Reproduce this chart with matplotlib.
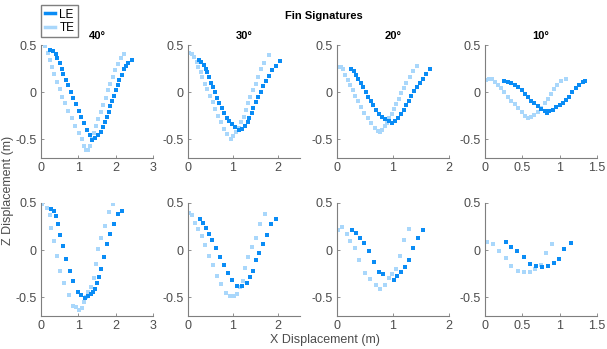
import matplotlib.pyplot as plt

plt.rcParams['font.family'] = ['Liberation Sans', 'DejaVu Sans']

# colours of the two fin edges
le_color = '#0a8cf5'
te_color = '#a9d7fb'

angles = ['40°', '30°', '20°', '10°']
xlims = [3, 2.5, 2, 1.5]
xticks = [[0, 1, 2, 3], [0, 1, 2], [0, 1, 2], [0, 0.5, 1, 1.5]]
xticklabels = [['0', '1', '2', '3'], ['0', '1', '2'], ['0', '1', '2'],
               ['0', '0.5', '1', '1.5']]

# ---- top row (dense sampling) ----
top40_le_x = [0.23, 0.32, 0.39, 0.44, 0.50, 0.55, 0.60, 0.67, 0.73, 0.80, 0.87, 0.94,
              1.01, 1.08, 1.15, 1.22, 1.30, 1.36, 1.45, 1.53, 1.61, 1.66, 1.71, 1.76,
              1.81, 1.85, 1.91, 1.95, 2.00, 2.05, 2.10, 2.16, 2.21, 2.27, 2.34, 2.43]
top40_le_y = [0.45, 0.44, 0.40, 0.36, 0.31, 0.25, 0.19, 0.13, 0.07, 0.00, -0.06, -0.13,
              -0.20, -0.26, -0.33, -0.40, -0.46, -0.51, -0.49, -0.46, -0.42, -0.37, -0.32, -0.26,
              -0.21, -0.15, -0.09, -0.04, 0.02, 0.07, 0.13, 0.18, 0.24, 0.28, 0.31, 0.34]
top40_te_x = [0.12, 0.18, 0.23, 0.29, 0.35, 0.43, 0.50, 0.57, 0.65, 0.73, 0.82, 0.91,
              1.01, 1.10, 1.16, 1.21, 1.26, 1.30, 1.36, 1.42, 1.48, 1.54, 1.61, 1.67,
              1.73, 1.79, 1.85, 1.92, 1.99, 2.06, 2.13, 2.22]
top40_te_y = [0.49, 0.41, 0.34, 0.27, 0.19, 0.11, 0.03, -0.05, -0.12, -0.20, -0.28, -0.36,
              -0.43, -0.50, -0.57, -0.62, -0.61, -0.57, -0.50, -0.43, -0.36, -0.29, -0.21, -0.14,
              -0.06, 0.02, 0.09, 0.16, 0.23, 0.30, 0.36, 0.40]

top30_le_x = [0.25, 0.30, 0.35, 0.40, 0.43, 0.47, 0.52, 0.56, 0.61, 0.65, 0.70, 0.76,
              0.81, 0.86, 0.92, 0.98, 1.06, 1.13, 1.21, 1.27, 1.33, 1.37, 1.42, 1.46,
              1.51, 1.57, 1.62, 1.68, 1.74, 1.81, 1.88, 1.96, 2.06]
top30_le_y = [0.34, 0.32, 0.29, 0.25, 0.21, 0.16, 0.10, 0.05, 0.00, -0.06, -0.12, -0.17,
              -0.22, -0.27, -0.31, -0.34, -0.37, -0.40, -0.39, -0.36, -0.32, -0.27, -0.22, -0.17,
              -0.11, -0.05, 0.00, 0.06, 0.12, 0.17, 0.23, 0.28, 0.33]
top30_te_x = [0.02, 0.08, 0.13, 0.19, 0.23, 0.28, 0.32, 0.37, 0.43, 0.49, 0.55, 0.61,
              0.67, 0.74, 0.81, 0.88, 0.95, 1.01, 1.07, 1.13, 1.18, 1.24, 1.29, 1.34,
              1.39, 1.45, 1.51, 1.57, 1.63, 1.70, 1.80]
top30_te_y = [0.41, 0.40, 0.37, 0.32, 0.27, 0.21, 0.16, 0.09, 0.03, -0.04, -0.11, -0.18,
              -0.25, -0.32, -0.39, -0.45, -0.50, -0.47, -0.42, -0.38, -0.32, -0.26, -0.19, -0.12,
              -0.05, 0.02, 0.09, 0.16, 0.24, 0.31, 0.39]

top20_le_x = [0.25, 0.30, 0.34, 0.38, 0.42, 0.46, 0.51, 0.56, 0.60, 0.65, 0.70, 0.75,
              0.80, 0.86, 0.92, 0.98, 1.04, 1.09, 1.14, 1.19, 1.24, 1.28, 1.33, 1.38,
              1.43, 1.48, 1.53, 1.59, 1.66]
top20_le_y = [0.24, 0.22, 0.18, 0.14, 0.10, 0.05, 0.00, -0.05, -0.10, -0.14, -0.19, -0.23,
              -0.26, -0.29, -0.31, -0.33, -0.31, -0.27, -0.23, -0.19, -0.14, -0.09, -0.04, 0.01,
              0.05, 0.10, 0.14, 0.19, 0.24]
top20_te_x = [0.02, 0.07, 0.11, 0.15, 0.19, 0.23, 0.28, 0.33, 0.38, 0.43, 0.49, 0.55,
              0.61, 0.67, 0.73, 0.76, 0.80, 0.85, 0.89, 0.93, 0.98, 1.02, 1.06, 1.10,
              1.15, 1.20, 1.24, 1.30, 1.36, 1.42]
top20_te_y = [0.27, 0.27, 0.24, 0.18, 0.13, 0.07, 0.02, -0.04, -0.10, -0.16, -0.22, -0.28,
              -0.33, -0.38, -0.41, -0.42, -0.40, -0.36, -0.33, -0.28, -0.23, -0.18, -0.13, -0.07,
              -0.01, 0.04, 0.10, 0.16, 0.22, 0.28]

top10_le_x = [0.26, 0.31, 0.35, 0.40, 0.44, 0.49, 0.53, 0.57, 0.62, 0.66, 0.71, 0.75,
              0.80, 0.83, 0.86, 0.91, 0.95, 1.00, 1.04, 1.09, 1.13, 1.17, 1.22, 1.26,
              1.31, 1.34]
top10_le_y = [0.12, 0.11, 0.10, 0.08, 0.05, 0.02, -0.02, -0.05, -0.09, -0.12, -0.15, -0.18,
              -0.20, -0.22, -0.20, -0.19, -0.16, -0.14, -0.12, -0.08, -0.05, 0.00, 0.04, 0.08,
              0.11, 0.12]
top10_te_x = [0.02, 0.05, 0.09, 0.13, 0.17, 0.22, 0.26, 0.31, 0.35, 0.40, 0.44, 0.49,
              0.53, 0.57, 0.62, 0.66, 0.71, 0.75, 0.80, 0.84, 0.89, 0.93, 0.97, 1.02,
              1.08]
top10_te_y = [0.13, 0.14, 0.14, 0.11, 0.08, 0.04, 0.00, -0.05, -0.09, -0.13, -0.17, -0.21,
              -0.25, -0.27, -0.26, -0.24, -0.21, -0.17, -0.12, -0.07, -0.02, 0.03, 0.08, 0.12,
              0.14]

# ---- bottom row (sparse sampling) ----
bot40_le_x = [0.27, 0.34, 0.40, 0.46, 0.52, 0.59, 0.67, 0.77, 0.87, 0.98, 1.07, 1.17,
              1.26, 1.33, 1.38, 1.45, 1.51, 1.56, 1.62, 1.69, 1.77, 1.85, 1.96, 2.07, 2.17]
bot40_le_y = [0.44, 0.41, 0.36, 0.28, 0.16, 0.04, -0.09, -0.22, -0.33, -0.44, -0.48, -0.51,
              -0.49, -0.47, -0.45, -0.41, -0.35, -0.29, -0.20, -0.07, 0.06, 0.17, 0.28, 0.38, 0.42]
bot40_te_x = [0.02, 0.16, 0.23, 0.28, 0.35, 0.43, 0.51, 0.61, 0.74, 0.85, 0.94, 1.03,
              1.09, 1.14, 1.21, 1.27, 1.34, 1.41, 1.47, 1.53, 1.61, 1.71, 1.82, 1.93]
bot40_te_y = [0.49, 0.45, 0.37, 0.23, 0.10, -0.06, -0.22, -0.35, -0.48, -0.59, -0.60, -0.64,
              -0.62, -0.55, -0.50, -0.45, -0.39, -0.30, -0.15, 0.01, 0.13, 0.26, 0.40, 0.49]

bot30_le_x = [0.26, 0.34, 0.41, 0.47, 0.54, 0.62, 0.71, 0.80, 0.89, 0.98, 1.09, 1.21,
              1.31, 1.38, 1.45, 1.51, 1.58, 1.67, 1.76, 1.86, 1.96]
bot30_le_y = [0.33, 0.29, 0.23, 0.17, 0.11, 0.02, -0.07, -0.16, -0.24, -0.32, -0.38, -0.38,
              -0.35, -0.29, -0.22, -0.10, -0.03, 0.06, 0.16, 0.28, 0.33]
bot30_te_x = [0.02, 0.10, 0.16, 0.23, 0.31, 0.38, 0.46, 0.55, 0.64, 0.74, 0.85, 0.94,
              1.03, 1.10, 1.16, 1.22, 1.27, 1.34, 1.42, 1.51, 1.61, 1.71]
bot30_te_y = [0.39, 0.37, 0.29, 0.22, 0.15, 0.05, -0.06, -0.16, -0.27, -0.36, -0.46, -0.49,
              -0.49, -0.47, -0.39, -0.33, -0.19, -0.07, 0.03, 0.13, 0.28, 0.38]

bot20_le_x = [0.27, 0.34, 0.41, 0.49, 0.57, 0.66, 0.75, 0.83, 1.01, 1.07, 1.14, 1.22,
              1.29, 1.36, 1.44, 1.53]
bot20_le_y = [0.21, 0.18, 0.13, 0.08, -0.01, -0.13, -0.23, -0.25, -0.32, -0.27, -0.23, -0.18,
              -0.10, 0.02, 0.13, 0.21]
bot20_te_x = [0.02, 0.09, 0.17, 0.24, 0.32, 0.40, 0.50, 0.59, 0.69, 0.77, 0.85, 0.93,
              0.98, 1.06, 1.12, 1.19, 1.28]
bot20_te_y = [0.21, 0.24, 0.17, 0.10, 0.02, -0.10, -0.24, -0.31, -0.37, -0.41, -0.37, -0.30,
              -0.25, -0.20, -0.06, 0.11, 0.22]

bot10_le_x = [0.28, 0.35, 0.43, 0.52, 0.60, 0.68, 0.76, 0.84, 0.92, 0.99, 1.06, 1.15]
bot10_le_y = [0.09, 0.03, -0.01, -0.07, -0.15, -0.17, -0.18, -0.17, -0.14, -0.09, 0.01, 0.08]
bot10_te_x = [0.03, 0.11, 0.19, 0.28, 0.35, 0.44, 0.52, 0.60, 0.67, 0.75, 0.82, 0.90]
bot10_te_y = [0.09, 0.06, -0.01, -0.08, -0.17, -0.22, -0.23, -0.23, -0.20, -0.16, -0.03, 0.06]

top_le = [(top40_le_x, top40_le_y), (top30_le_x, top30_le_y),
          (top20_le_x, top20_le_y), (top10_le_x, top10_le_y)]
top_te = [(top40_te_x, top40_te_y), (top30_te_x, top30_te_y),
          (top20_te_x, top20_te_y), (top10_te_x, top10_te_y)]
bot_le = [(bot40_le_x, bot40_le_y), (bot30_le_x, bot30_le_y),
          (bot20_le_x, bot20_le_y), (bot10_le_x, bot10_le_y)]
bot_te = [(bot40_te_x, bot40_te_y), (bot30_te_x, bot30_te_y),
          (bot20_te_x, bot20_te_y), (bot10_te_x, bot10_te_y)]

fig = plt.figure(figsize=(6.07, 3.49), dpi=100)

lefts = [41, 188, 337, 485]
tops = [45, 203]
W, H = 607, 349
aw, ah = 112, 113

axes = []
for r, (le_row, te_row) in enumerate([(top_le, top_te), (bot_le, bot_te)]):
    for c in range(4):
        ax = fig.add_axes([lefts[c] / W, 1 - (tops[r] + ah) / H, aw / W, ah / H])
        te_x, te_y = te_row[c]
        le_x, le_y = le_row[c]
        ax.plot(te_x, te_y, 's', color=te_color, ms=2.3, mew=0, label='TE')
        ax.plot(le_x, le_y, 's', color=le_color, ms=2.3, mew=0, label='LE')
        ax.set_xlim(0, xlims[c])
        ax.set_ylim(-0.7, 0.5)
        ax.set_xticks(xticks[c])
        ax.set_xticklabels(xticklabels[c])
        ax.set_yticks([-0.5, 0, 0.5])
        ax.set_yticklabels(['-0.5', '0', '0.5'])
        for s in ['top', 'right']:
            ax.spines[s].set_visible(False)
        for s in ['left', 'bottom']:
            ax.spines[s].set_color('#7f7f7f')
            ax.spines[s].set_linewidth(0.8)
        ax.tick_params(direction='in', length=2.5, width=0.6, colors='#7f7f7f',
                       labelcolor='#4d4d4d', labelsize=9, pad=3)
        if r == 0:
            ax.set_title(angles[c], fontsize=8, fontweight='bold', pad=4)
        axes.append(ax)

# legend with thick lines, like the original
h_le, = axes[0].plot([], [], '-', color=le_color, lw=2.5)
h_te, = axes[0].plot([], [], '-', color=te_color, lw=2.5)
fig.legend([h_le, h_te], ['LE', 'TE'], loc='upper left',
           bbox_to_anchor=(41 / W, 1 - 5 / H), borderaxespad=0, fontsize=8.5,
           handlelength=0.9, handletextpad=0.35, borderpad=0.3, labelspacing=0.1,
           fancybox=False, edgecolor='#7f7f7f', framealpha=1)

fig.text(324 / W, 1 - 16 / H, 'Fin Signatures', ha='center', va='center',
         fontsize=8, fontweight='bold')
fig.text(325 / W, 1 - 340 / H, 'X Displacement (m)', ha='center', va='center',
         fontsize=9, color='#4d4d4d')
fig.text(8 / W, 1 - 190 / H, 'Z Displacement (m)', ha='center', va='center',
         rotation=90, fontsize=9, color='#4d4d4d')

fig.savefig('out.png', dpi=100)
